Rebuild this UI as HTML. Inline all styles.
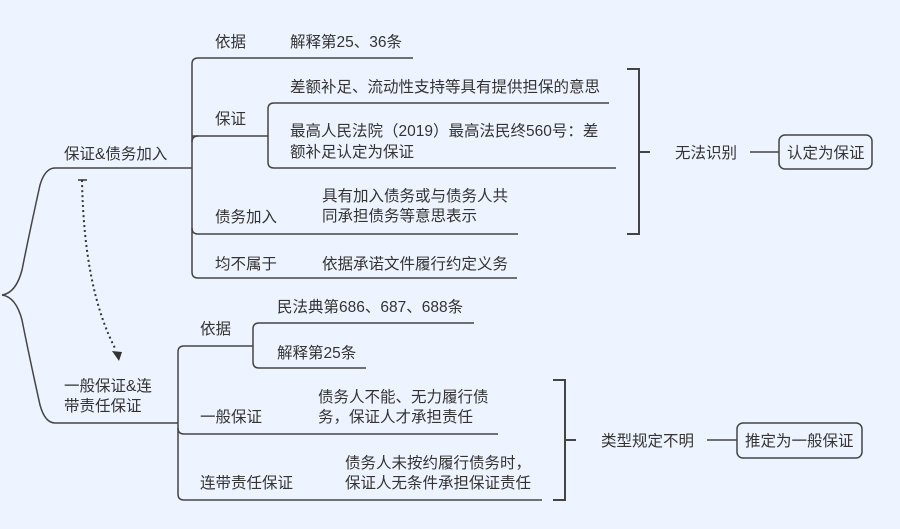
<!DOCTYPE html>
<html><head><meta charset="utf-8"><style>
html,body{margin:0;padding:0;background:#eef4ff;}
svg{display:block;}
text{font-family:"Liberation Sans","Noto Sans CJK SC",sans-serif;font-size:15.5px;fill:#333;}
.l{stroke:#444;stroke-width:1.5;fill:none;}
</style></head><body>
<svg width="900" height="529" viewBox="0 0 900 529" xmlns="http://www.w3.org/2000/svg">
<rect width="900" height="529" fill="#eef4ff"/>
<path class="l" d="M178,168 L55,168 Q45,168 40,185 Q30,230 22,270 Q16,293 2,295 Q16,297 22,320 Q30,360 40,405 Q45,423 55,423 L163,423"/>
<path d="M82,180 Q84,290 116,350" stroke="#333" stroke-width="2" stroke-dasharray="2,3" fill="none"/>
<line x1="78" y1="180" x2="87" y2="180" stroke="#333" stroke-width="1.5"/>
<polygon points="112,351 122,352 119,361" fill="#333"/>
<text x="64" y="159">保证&amp;债务加入</text>
<text x="64" y="391">一般保证&amp;连</text>
<text x="64" y="411">带责任保证</text>
<path class="l" d="M178,168 L192,168"/>
<path class="l" d="M413,58 L198,58 Q192,58 192,64 L192,272 Q192,278 198,278 L517,278"/>
<path class="l" d="M192,136 L268,136"/>
<path class="l" d="M192,228 Q192,234 198,234 L518,234"/>
<path class="l" d="M192,142 Q192,136 198,136"/>
<text x="215" y="47">依据</text>
<text x="290" y="47">解释第25、36条</text>
<text x="215" y="124">保证</text>
<text x="215" y="222">债务加入</text>
<text x="215" y="269">均不属于</text>
<text x="322" y="201">具有加入债务或与债务人共</text>
<text x="322" y="221">同承担债务等意思表示</text>
<text x="322" y="269">依据承诺文件履行约定义务</text>
<path class="l" d="M609,103 L274,103 Q268,103 268,109 L268,162 Q268,168 274,168 L616,168"/>
<text x="290" y="92">差额补足、流动性支持等具有提供担保的意思</text>
<text x="290" y="136">最高人民法院（2019）最高法民终560号：差</text>
<text x="290" y="157">额补足认定为保证</text>
<path class="l" d="M627,69 L639,69 L639,234 L627,234 M639,152 L650,152" style="stroke-width:2"/>
<text x="675" y="158">无法识别</text>
<path class="l" d="M750,152 L779,152"/>
<rect x="779" y="135" width="93" height="34" rx="6" class="l"/>
<text x="787" y="158">认定为保证</text>
<path class="l" d="M163,423 L178,423"/>
<path class="l" d="M253,346 L184,346 Q178,346 178,352 L178,494 Q178,500 184,500 L542,500"/>
<path class="l" d="M178,428 Q178,434 184,434 L498,434"/>
<text x="200" y="334">依据</text>
<path class="l" d="M474,323 L259,323 Q253,323 253,329 L253,362 Q253,368 259,368 L366,368"/>
<text x="277" y="312">民法典第686、687、688条</text>
<text x="277" y="358">解释第25条</text>
<text x="200" y="422">一般保证</text>
<text x="318" y="402">债务人不能、无力履行债</text>
<text x="318" y="422">务，保证人才承担责任</text>
<text x="200" y="488">连带责任保证</text>
<text x="345" y="468">债务人未按约履行债务时，</text>
<text x="345" y="488">保证人无条件承担保证责任</text>
<path class="l" d="M553,380 L565,380 L565,500 L553,500 M565,440 L576,440" style="stroke-width:2"/>
<text x="601" y="446">类型规定不明</text>
<path class="l" d="M707,440 L737,440"/>
<rect x="737" y="423" width="125" height="35" rx="6" class="l"/>
<text x="745" y="446">推定为一般保证</text>
</svg>
</body></html>
